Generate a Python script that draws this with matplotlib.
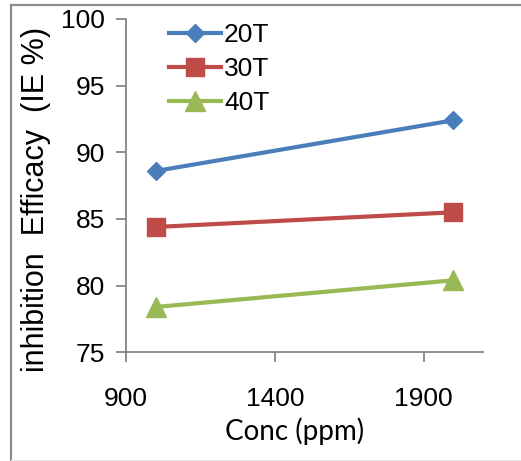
import matplotlib
matplotlib.use("Agg")
import matplotlib.pyplot as plt
from matplotlib.lines import Line2D

# data
conc = [1000, 2000]
ie_20 = [88.6, 92.4]
ie_30 = [84.4, 85.5]
ie_40 = [78.4, 80.4]
labels = ["20T", "30T", "40T"]
x_ticks = [900, 1400, 1900]
y_ticks = [75, 80, 85, 90, 95, 100]

plt.rcParams['font.family'] = ['Liberation Sans', 'DejaVu Sans']

fig = plt.figure(figsize=(5.21, 4.61), dpi=100)
ax = fig.add_axes([126 / 521, 1 - 352.3 / 461, (483 - 126) / 521, (352.3 - 19) / 461])

ax.plot(conc, ie_20, color='#4A7EBB', lw=3, marker='D', ms=9.5, label=labels[0])
ax.plot(conc, ie_30, color='#BE4B48', lw=3, marker='s', ms=13, label=labels[1])
ax.plot(conc, ie_40, color='#98B954', lw=3, marker='^', ms=14, label=labels[2])

ax.set_xlim(900, 2100)
ax.set_ylim(75, 100)
ax.set_xticks(x_ticks)
ax.set_yticks(y_ticks)

for side in ['top', 'right']:
    ax.spines[side].set_visible(False)
for side in ['left', 'bottom']:
    ax.spines[side].set_color('#868686')
    ax.spines[side].set_linewidth(1.3)
ax.tick_params(colors='#868686', labelcolor='black', labelsize=19,
               length=7, width=1.3, pad=8)
ax.tick_params(axis='x', pad=18)

ax.set_xlabel('Conc (ppm)', fontsize=20, family=['Lato', 'DejaVu Sans'])
ax.xaxis.set_label_coords(0.473, -0.195)
ax.set_ylabel('inhibition  Efficacy  (IE %)', fontsize=22)
ax.yaxis.set_label_coords(-0.21, 0.46)

ax.legend(loc='upper left', bbox_to_anchor=(0.09, 1.02), frameon=False, fontsize=19,
          handlelength=2.0, handletextpad=0.1, labelspacing=0.38, borderaxespad=0)

# outer frame of the chart area
fig.add_artist(Line2D([11 / 521, 11 / 521], [0, 1 - 5 / 461], transform=fig.transFigure,
                      color='#8c8c8c', lw=1.6))
fig.add_artist(Line2D([11 / 521, 1], [1 - 5 / 461, 1 - 5 / 461], transform=fig.transFigure,
                      color='#8c8c8c', lw=1.6))
fig.add_artist(Line2D([11 / 521, 1], [1 / 461, 1 / 461], transform=fig.transFigure,
                      color='#e6e6e6', lw=1))

fig.savefig('out.png', dpi=100)
